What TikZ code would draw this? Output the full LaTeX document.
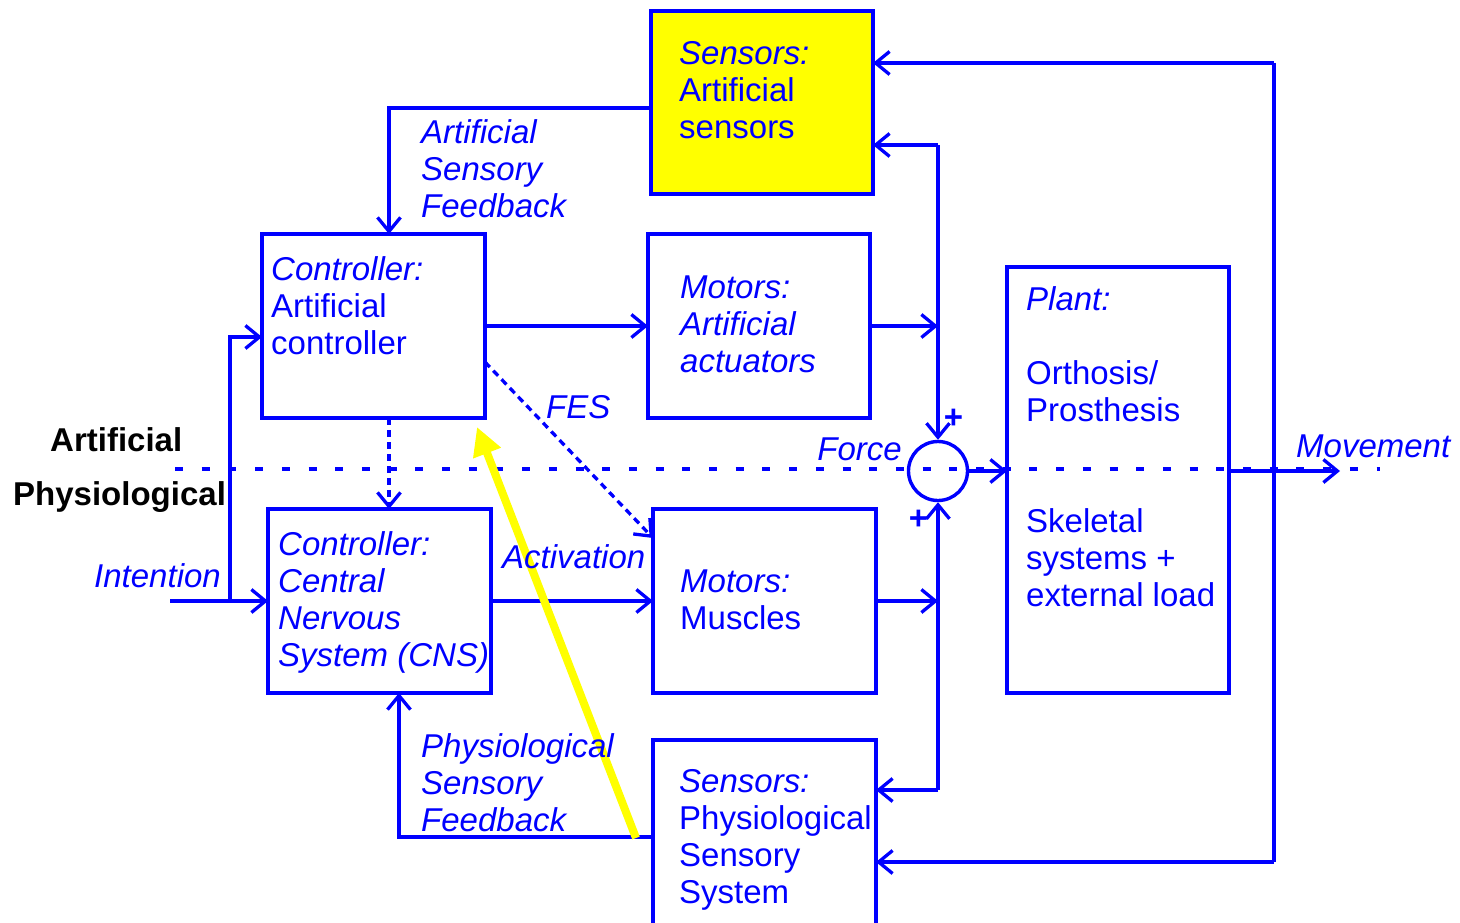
\documentclass[tikz,border=0pt]{standalone}
\usepackage{fontspec}
\setmainfont{Liberation Sans}
\usetikzlibrary{arrows.meta}
\definecolor{bl}{HTML}{0000FF}
\definecolor{hl}{HTML}{FFFF00}
% stacked lines whose first baseline is the node's base
\newcommand{\txtrows}[1]{\begin{tabular}[t]{@{}l@{}}#1\end{tabular}}

\begin{document}
\begin{tikzpicture}[x=1pt,y=-1pt,
  blk/.style={draw=bl, line width=3.4pt, anchor=north west, inner sep=0pt, outer sep=0pt},
  txt/.style={text=bl, font=\fontsize{33}{37}\selectfont, inner sep=0pt, anchor=base west},
  side/.style={text=black, font=\fontsize{33}{37}\selectfont\bfseries, inner sep=0pt, anchor=base west},
  ln/.style={draw=bl, line width=3.3pt},
  ar/.style={ln, -{Straight Barb[length=14pt,width=23pt]}},
  dsh/.style={ar, dash pattern=on 7pt off 5pt},
  sepline/.style={draw=bl, line width=4pt, dash pattern=on 8pt off 18.7pt},
  ya/.style={draw=hl, line width=8pt, -{Triangle[length=28pt,width=28pt]}}]

\clip (0,0) rectangle (1460,922);

% boundary between artificial and physiological parts
\draw[sepline] (175,469) -- (1380,469);

% blocks
\node[blk, fill=hl, minimum width=222pt, minimum height=183pt] (sa) at (651,11) {};
\node[blk, minimum width=223pt, minimum height=184pt] (ca) at (262,234) {};
\node[blk, minimum width=222pt, minimum height=184pt] (ma) at (648,234) {};
\node[blk, minimum width=222pt, minimum height=426pt] (pl) at (1007,267) {};
\node[blk, minimum width=223pt, minimum height=184pt] (cns) at (268,509) {};
\node[blk, minimum width=223pt, minimum height=184pt] (mm) at (653,509) {};
\node[blk, minimum width=223pt, minimum height=200pt] (ps) at (653,740) {};
\node[draw=bl, line width=3.4pt, circle, minimum size=59pt, inner sep=0pt] (sum) at (938,471) {};

% block texts
\node[txt] (tsa) at (679,64) {\txtrows{\textit{Sensors:}\\Artificial\\sensors}};
\node[txt] (tca) at (271,280) {\txtrows{\textit{Controller:}\\Artificial\\controller}};
\node[txt] (tma) at (680,298) {\txtrows{\textit{Motors:}\\\textit{Artificial}\\\textit{actuators}}};
\node[txt] (tpl) at (1026,310) {\txtrows{\textit{Plant:}\\ \\Orthosis/\\Prosthesis\\ \\ \\Skeletal\\systems +\\external load}};
\node[txt] (tcns) at (278,555) {\txtrows{\textit{Controller:}\\\textit{Central}\\\textit{Nervous}\\\textit{System (CNS)}}};
\node[txt] (tmm) at (680,592) {\txtrows{\textit{Motors:}\\Muscles}};
\node[txt] (tps) at (679,792) {\txtrows{\textit{Sensors:}\\Physiological\\Sensory\\System}};

% junction points
\coordinate (j1) at (938,145);
\coordinate (j2) at (938,790);
\coordinate (j3) at (1274,63);
\coordinate (j4) at (1274,862);
\coordinate (in) at (170,601);
\coordinate (j5) at (230,601);
\coordinate (mv) at (1340,471);

% artificial loop
\draw[ar] ([yshift=-5.5pt]sa.west) -| ([xshift=15.5pt]ca.north);
\draw[ar] (ca.east) -- (ca.east -| ma.west);
\draw[ar] (ma.east) -- (ma.east -| sum.north);
\draw[ar] (j1) -- (j1 -| sa.east);
\draw[ar] (j1) -- (sum.north);

% physiological loop
\draw[ar] (cns.east) -- (cns.east -| mm.west);
\draw[ar] (mm.east) -- (mm.east -| sum.south);
\draw[ar] (j2) -- (j2 -| ps.east);
\draw[ar] (j2) -- (sum.south);
\draw[ar] ([yshift=3pt]ps.west) -| ([xshift=19.5pt]cns.south);

% intention input
\draw[ar] (in) -- (cns.west);
\draw[ar] (j5) |- ([yshift=-11pt]ca.west);

% artificial controller to the physiological side
\draw[dsh] ([xshift=15.5pt]ca.south) -- ([xshift=9.5pt]cns.north);
\draw[dsh] ([yshift=-36pt]ca.east) -- ([yshift=63pt]mm.west);

% plant and movement feedback
\draw[ar] (sum.east) -- (sum.east -| pl.west);
\draw[ar] (pl.east |- sum.east) -- (mv);
\draw[ln] (j3) -- (j4);
\draw[ar] (j3) -- (j3 -| sa.east);
\draw[ar] (j4) -- (j4 -| ps.east);

% highlight arrow
\draw[ya] ([xshift=-17pt,yshift=2pt]ps.west) -- ([xshift=-8pt,yshift=-9pt]ca.south east);

% signal labels
\node[txt] (lasf) at (421,143) {\txtrows{\textit{Artificial}\\\textit{Sensory}\\\textit{Feedback}}};
\node[txt] (lpsf) at (421,757) {\txtrows{\textit{Physiological}\\\textit{Sensory}\\\textit{Feedback}}};
\node[txt] (lfes) at (546,418) {\textit{FES}};
\node[txt] (lact) at (502,568) {\textit{Activation}};
\node[txt, anchor=base east] (lint) at (221,587) {\textit{Intention}};
\node[txt, anchor=base east] (lfor) at (902,460) {\textit{Force}};
\node[txt] (lmov) at (1296,457) {\textit{Movement}};
\node[txt, font=\fontsize{33}{37}\selectfont\bfseries, anchor=center] (pl1) at (953.5,418.5) {+};
\node[txt, font=\fontsize{33}{37}\selectfont\bfseries, anchor=center] (pl2) at (918.5,520) {+};

% domain labels
\node[side] (dart) at (50,451) {Artificial};
\node[side] (dphy) at (13,505) {Physiological};
\end{tikzpicture}
\end{document}
